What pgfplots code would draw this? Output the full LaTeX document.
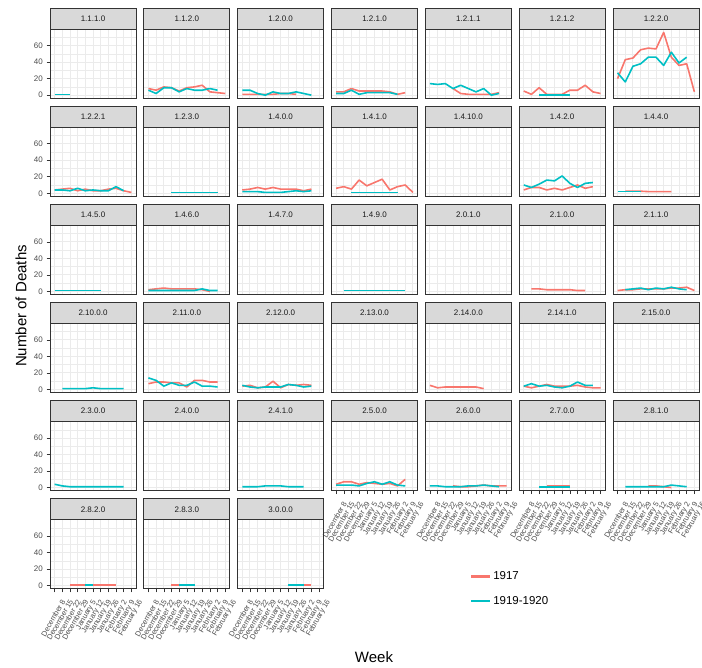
\documentclass[border=0pt]{standalone}
\usepackage{fontspec}
\setmainfont{Liberation Sans}
\usepackage{pgfplots}
\pgfplotsset{compat=1.18}

\definecolor{c17}{HTML}{F8766D}
\definecolor{c19}{HTML}{00BFC4}
\definecolor{gridgray}{HTML}{EBEBEB}
\definecolor{stripgray}{HTML}{D9D9D9}
\definecolor{framegray}{HTML}{333333}
\definecolor{tickgray}{HTML}{4D4D4D}
\definecolor{striptext}{HTML}{1A1A1A}

\pgfplotsset{
  s17/.style={draw=c17, line width=1.6pt, line join=round, no marks},
  s19/.style={draw=c19, line width=1.6pt, line join=round, no marks},
  facet/.style n args={3}{
    at={({(50+(#1-1)*93.83)*1pt},{(668-98.3-(#2-1)*98.1)*1pt})},
    anchor=south west,
    scale only axis, width=86pt, height=69pt,
    xmin=0.4, xmax=11.6, ymin=-3.8, ymax=79.8,
    xtick={1,...,11}, ytick={0,20,40,60}, minor ytick={10,30,50,70},
    xticklabels={}, yticklabels={},
    tick pos=left,
    grid=both,
    major grid style={draw=gridgray, line width=0.9pt},
    minor grid style={draw=gridgray, line width=0.5pt},
    axis line style={draw=framegray, line width=0.7pt},
    tick align=outside, major tick length=3.5pt, minor tick length=0pt,
    xtick style={draw=none}, ytick style={draw=none},
    clip=false,
    after end axis/.append code={
      \draw[draw=framegray, fill=stripgray, line width=0.7pt]
        (rel axis cs:0,1) rectangle ([yshift=21pt]rel axis cs:1,1);
      \node[font=\fontsize{8}{9}\selectfont, text=striptext, inner sep=0pt]
        at ([yshift=10.5pt]rel axis cs:0.5,1) {#3};
    },
  },
  leftcol/.style={
    yticklabels={0,20,40,60},
    ytick style={draw=framegray, line width=0.55pt},
    yticklabel style={font=\fontsize{8}{9}\selectfont, text=tickgray, inner sep=1pt, xshift=-2.5pt},
  },
  bottomrow/.style={
    xticklabels={December 8,December 15,December 22,December 29,January 5,January 12,January 19,January 26,February 2,February 9,February 16},
    xtick style={draw=framegray, line width=0.55pt},
    xticklabel style={xshift=6pt, yshift=-5pt, rotate=60, anchor=north east,
      font=\fontsize{7.5}{8}\selectfont, text=tickgray, inner sep=1pt},
  },
}

\begin{document}
\begin{tikzpicture}
\useasboundingbox (0,0) rectangle (702pt,668pt);

% ---------- row 1 ----------
\begin{axis}[facet={1}{1}{1.1.1.0}, leftcol]
\addplot[s19] coordinates {(1,1)(2,1)(3,1)};
\end{axis}
\begin{axis}[facet={2}{1}{1.1.2.0}]
\addplot[s17] coordinates {(1,8)(2,6)(3,10)(4,9)(5,5)(6,9)(7,10)(8,12)(9,4)(10,3)(11,2)};
\addplot[s19] coordinates {(1,6)(2,2)(3,9)(4,9)(5,4)(6,8)(7,6)(8,6)(9,8)(10,6)};
\end{axis}
\begin{axis}[facet={3}{1}{1.2.0.0}]
\addplot[s17] coordinates {(1,1)(2,1)(3,1)(4,1)(5,1)(6,2)(7,2)(8,1)};
\addplot[s19] coordinates {(1,6)(2,6)(3,2)(4,0)(5,4)(6,2)(7,2)(8,4)(9,2)(10,0)};
\end{axis}
\begin{axis}[facet={4}{1}{1.2.1.0}]
\addplot[s17] coordinates {(1,4)(2,4)(3,8)(4,5)(5,5)(6,5)(7,5)(8,4)(9,1)(10,3)};
\addplot[s19] coordinates {(1,2)(2,2)(3,6)(4,1)(5,3)(6,3)(7,3)(8,3)(9,1)};
\end{axis}
\begin{axis}[facet={5}{1}{1.2.1.1}]
\addplot[s17] coordinates {(4,8)(5,2)(6,1)(7,1)(8,1)(9,1)(10,3)};
\addplot[s19] coordinates {(1,14)(2,13)(3,14)(4,8)(5,12)(6,8)(7,4)(8,8)(9,0)(10,2)};
\end{axis}
\begin{axis}[facet={6}{1}{1.2.1.2}]
\addplot[s17] coordinates {(1,5)(2,1)(3,9)(4,1)(5,1)(6,1)(7,6)(8,6)(9,12)(10,4)(11,2)};
\addplot[s19] coordinates {(3,0)(4,0)(5,0)(6,0)(7,0)};
\end{axis}
\begin{axis}[facet={7}{1}{1.2.2.0}]
\addplot[s17] coordinates {(1,20)(2,43)(3,45)(4,55)(5,57)(6,56)(7,76)(8,46)(9,36)(10,38)(11,4)};
\addplot[s19] coordinates {(1,27)(2,16)(3,35)(4,38)(5,46)(6,46)(7,36)(8,52)(9,39)(10,46)};
\end{axis}

% ---------- row 2 ----------
\begin{axis}[facet={1}{2}{1.2.2.1}, leftcol]
\addplot[s17] coordinates {(1,4)(2,5)(3,6)(4,3)(5,5)(6,3)(7,3)(8,5)(9,6)(10,3)(11,1)};
\addplot[s19] coordinates {(1,4)(2,4)(3,3)(4,6)(5,3)(6,4)(7,3)(8,3)(9,8)(10,3)};
\end{axis}
\begin{axis}[facet={2}{2}{1.2.3.0}]
\addplot[s19] coordinates {(4,1)(5,1)(6,1)(7,1)(8,1)(9,1)(10,1)};
\end{axis}
\begin{axis}[facet={3}{2}{1.4.0.0}]
\addplot[s17] coordinates {(1,4)(2,5)(3,7)(4,5)(5,7)(6,5)(7,5)(8,5)(9,3)(10,5)};
\addplot[s19] coordinates {(1,2)(2,2)(3,2)(4,1)(5,1)(6,1)(7,2)(8,3)(9,2)(10,3)};
\end{axis}
\begin{axis}[facet={4}{2}{1.4.1.0}]
\addplot[s17] coordinates {(1,6)(2,8)(3,5)(4,16)(5,9)(6,13)(7,17)(8,4)(9,8)(10,10)(11,1)};
\addplot[s19] coordinates {(3,1)(4,1)(5,1)(6,1)(7,1)(8,1)(9,1)};
\end{axis}
\begin{axis}[facet={5}{2}{1.4.10.0}]
\end{axis}
\begin{axis}[facet={6}{2}{1.4.2.0}]
\addplot[s17] coordinates {(1,4)(2,7)(3,7)(4,4)(5,6)(6,4)(7,7)(8,10)(9,6)(10,8)};
\addplot[s19] coordinates {(1,10)(2,7)(3,11)(4,16)(5,15)(6,21)(7,12)(8,7)(9,12)(10,13)};
\end{axis}
\begin{axis}[facet={7}{2}{1.4.4.0}]
\addplot[s17] coordinates {(2,2.5)(3,2.5)(4,2.5)(5,2)(6,2)(7,2)(8,2)};
\addplot[s19] coordinates {(1,2)(2,2)(3,2)(4,2)};
\end{axis}

% ---------- row 3 ----------
\begin{axis}[facet={1}{3}{1.4.5.0}, leftcol]
\addplot[s19] coordinates {(1,1)(2,1)(3,1)(4,1)(5,1)(6,1)(7,1)};
\end{axis}
\begin{axis}[facet={2}{3}{1.4.6.0}]
\addplot[s17] coordinates {(1,2)(2,3)(3,4)(4,3)(5,3)(6,3)(7,3)(8,2)(9,0)};
\addplot[s19] coordinates {(1,1)(2,1)(3,1)(4,1)(5,1)(6,1)(7,1)(8,3)(9,1)(10,1)};
\end{axis}
\begin{axis}[facet={3}{3}{1.4.7.0}]
\end{axis}
\begin{axis}[facet={4}{3}{1.4.9.0}]
\addplot[s19] coordinates {(2,1)(3,1)(4,1)(5,1)(6,1)(7,1)(8,1)(9,1)(10,1)};
\end{axis}
\begin{axis}[facet={5}{3}{2.0.1.0}]
\end{axis}
\begin{axis}[facet={6}{3}{2.1.0.0}]
\addplot[s17] coordinates {(2,3)(3,3)(4,2)(5,2)(6,2)(7,2)(8,1)(9,1)};
\end{axis}
\begin{axis}[facet={7}{3}{2.1.1.0}]
\addplot[s17] coordinates {(1,1)(2,2)(3,2)(4,3)(5,3)(6,3)(7,3)(8,4)(9,4)(10,5)(11,1)};
\addplot[s19] coordinates {(2,2)(3,3)(4,4)(5,2)(6,4)(7,3)(8,5)(9,3)(10,2)};
\end{axis}

% ---------- row 4 ----------
\begin{axis}[facet={1}{4}{2.10.0.0}, leftcol]
\addplot[s19] coordinates {(2,1)(3,1)(4,1)(5,1)(6,2)(7,1)(8,1)(9,1)(10,1)};
\end{axis}
\begin{axis}[facet={2}{4}{2.11.0.0}]
\addplot[s17] coordinates {(1,7)(2,9)(3,9)(4,8)(5,8)(6,3)(7,11)(8,11)(9,9)(10,9)};
\addplot[s19] coordinates {(1,14)(2,11)(3,4)(4,8)(5,5)(6,5)(7,9)(8,4)(9,4)(10,3)};
\end{axis}
\begin{axis}[facet={3}{4}{2.12.0.0}]
\addplot[s17] coordinates {(1,4)(2,5)(3,2)(4,3)(5,10)(6,2)(7,6)(8,5)(9,6)(10,5)};
\addplot[s19] coordinates {(1,5)(2,3)(3,2)(4,3)(5,3)(6,3)(7,6)(8,5)(9,3)(10,4)};
\end{axis}
\begin{axis}[facet={4}{4}{2.13.0.0}]
\end{axis}
\begin{axis}[facet={5}{4}{2.14.0.0}]
\addplot[s17] coordinates {(1,5)(2,2)(3,3)(4,3)(5,3)(6,3)(7,3)(8,1)};
\end{axis}
\begin{axis}[facet={6}{4}{2.14.1.0}]
\addplot[s17] coordinates {(1,4)(2,2)(3,4)(4,6)(5,4)(6,4)(7,4)(8,5)(9,3)(10,2)(11,2)};
\addplot[s19] coordinates {(1,4)(2,7)(3,4)(4,5)(5,3)(6,2)(7,4)(8,9)(9,5)(10,5)};
\end{axis}
\begin{axis}[facet={7}{4}{2.15.0.0}]
\end{axis}

% ---------- row 5 ----------
\begin{axis}[facet={1}{5}{2.3.0.0}, leftcol]
\addplot[s19] coordinates {(1,4)(2,2)(3,1)(4,1)(5,1)(6,1)(7,1)(8,1)(9,1)(10,1)};
\end{axis}
\begin{axis}[facet={2}{5}{2.4.0.0}]
\end{axis}
\begin{axis}[facet={3}{5}{2.4.1.0}]
\addplot[s19] coordinates {(1,1)(2,1)(3,1)(4,2)(5,2)(6,2)(7,1)(8,1)(9,1)};
\end{axis}
\begin{axis}[facet={4}{5}{2.5.0.0}, bottomrow]
\addplot[s17] coordinates {(1,4)(2,7)(3,7)(4,4)(5,6)(6,5)(7,4)(8,5)(9,2)(10,10)};
\addplot[s19] coordinates {(1,3)(2,3)(3,3)(4,2)(5,5)(6,7)(7,4)(8,7)(9,3)(10,2)};
\end{axis}
\begin{axis}[facet={5}{5}{2.6.0.0}, bottomrow]
\addplot[s17] coordinates {(4,2)(5,1)(6,1)(7,2)(8,3)(9,2)(10,2)(11,2)};
\addplot[s19] coordinates {(1,2)(2,2)(3,1)(4,1)(5,1)(6,2)(7,2)(8,3)(9,2)(10,1)};
\end{axis}
\begin{axis}[facet={6}{5}{2.7.0.0}, bottomrow]
\addplot[s17] coordinates {(4,2)(5,2)(6,2)(7,2)};
\addplot[s19] coordinates {(3,1)(4,1)(5,1)(6,1)(7,1)};
\end{axis}
\begin{axis}[facet={7}{5}{2.8.1.0}, bottomrow]
\addplot[s17] coordinates {(5,2)(6,2)(7,1)(8,0)};
\addplot[s19] coordinates {(2,1)(3,1)(4,1)(5,1)(6,1)(7,1)(8,3)(9,2)(10,1)};
\end{axis}

% ---------- row 6 ----------
\begin{axis}[facet={1}{6}{2.8.2.0}, leftcol, bottomrow]
\addplot[s17] coordinates {(3,1)(4,1)(5,1)(6,1)(7,1)(8,1)(9,1)};
\addplot[s19] coordinates {(5,1)(6,1)};
\end{axis}
\begin{axis}[facet={2}{6}{2.8.3.0}, bottomrow]
\addplot[s17] coordinates {(4,1)(5,1)(6,1)(7,1)};
\addplot[s19] coordinates {(5,1)(6,1)(7,1)};
\end{axis}
\begin{axis}[facet={3}{6}{3.0.0.0}, bottomrow,
  legend style={at={(axis description cs:2.70,0)}, anchor=west, draw=none, fill=none,
    font=\fontsize{11.5}{13}\selectfont, row sep=11pt, inner sep=0pt,
    nodes={inner sep=2pt}},
  legend cell align=left,
  legend image code/.code={\draw[#1] (0pt,0pt) -- (19pt,0pt);}]
\addplot[s17, forget plot] coordinates {(7,1)(8,1)(9,1)(10,1)};
\addplot[s19, forget plot] coordinates {(7,1)(8,1)(9,1)};
\addlegendimage{draw=c17, line width=2.2pt}
\addlegendentry{1917}
\addlegendimage{draw=c19, line width=2.2pt}
\addlegendentry{1919-1920}
\end{axis}

% axis titles
\node[rotate=90, font=\fontsize{15}{18}\selectfont, inner sep=0pt] at (21pt,362pt) {Number of Deaths};
\node[font=\fontsize{15}{18}\selectfont, inner sep=0pt] at (374pt,11pt) {Week};
\end{tikzpicture}
\end{document}
